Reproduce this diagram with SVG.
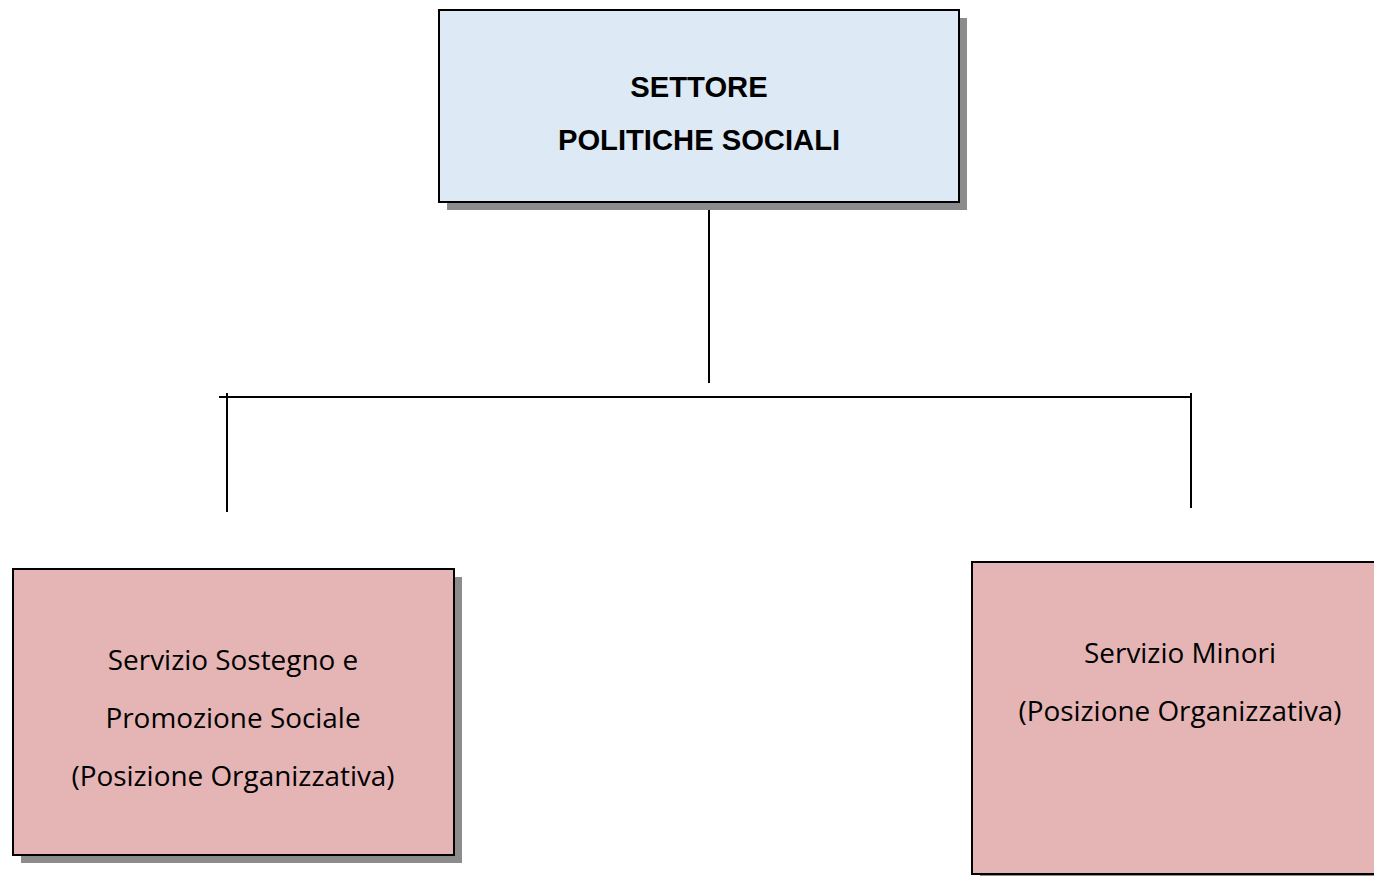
<svg xmlns="http://www.w3.org/2000/svg" width="1374" height="876" viewBox="0 0 1374 876">
<style>
.shadow{fill:#8c8c8c}
.box{stroke:#000;stroke-width:2}
.blue{fill:#dde9f5}
.pink{fill:#e5b5b5}
.title{font-family:"Liberation Sans",Arial,sans-serif;font-weight:bold;font-size:29.2px;fill:#000;text-anchor:middle}
.lbl{font-family:"Open Sans","Noto Sans",sans-serif;font-size:27.9px;fill:#000;text-anchor:middle}
.conn{stroke:#000;stroke-width:2;fill:none}
</style>
<rect width="1374" height="876" fill="#fff"/>
<g id="connectors">
<line class="conn" x1="709" y1="202" x2="709" y2="383"/>
<line class="conn" x1="219" y1="397" x2="1192" y2="397"/>
<line class="conn" x1="227" y1="393" x2="227" y2="512"/>
<line class="conn" x1="1191" y1="393" x2="1191" y2="508"/>
</g>
<g id="settore">
<rect class="shadow" x="447" y="18" width="520" height="192"/>
<rect class="box blue" x="439" y="10" width="520" height="192"/>
<text class="title" x="699" y="97">SETTORE</text>
<text class="title" x="699" y="150">POLITICHE SOCIALI</text>
</g>
<g id="sostegno">
<rect class="shadow" x="21" y="577" width="441" height="286"/>
<rect class="box pink" x="13" y="569" width="441" height="286"/>
<text class="lbl" x="233" y="670">Servizio Sostegno e</text>
<text class="lbl" x="233" y="728">Promozione Sociale</text>
<text class="lbl" x="233" y="786">(Posizione Organizzativa)</text>
</g>
<g id="minori">
<rect class="shadow" x="980" y="570" width="416" height="312"/>
<rect class="box pink" x="972" y="562" width="416" height="312"/>
<text class="lbl" x="1180" y="663">Servizio Minori</text>
<text class="lbl" x="1180" y="721">(Posizione Organizzativa)</text>
</g>
</svg>
